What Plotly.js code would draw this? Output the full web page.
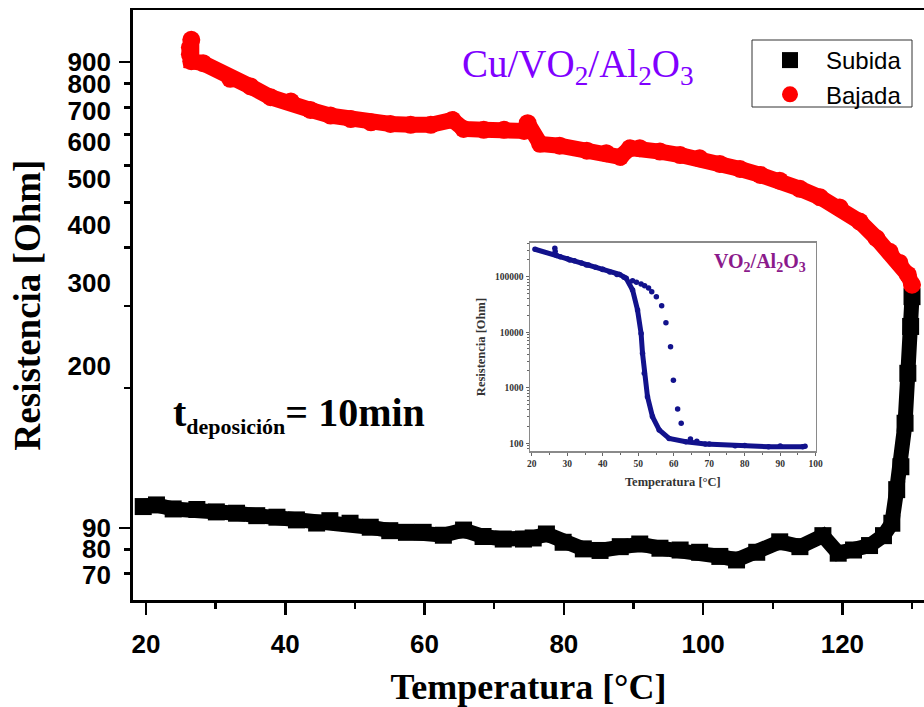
<!DOCTYPE html>
<html><head><meta charset="utf-8">
<script src="https://cdn.plot.ly/plotly-3.0.1.min.js"></script>
<style>html,body{margin:0;padding:0;background:#fff}#chart{width:924px;height:707px}</style>
</head><body><div id="chart"></div>
<script>
// ---- Main chart data (Cu/VO2/Al2O3) ----
var subidaT = [19.6, 21.5, 23.9, 27.3, 30.1, 33.0, 35.9, 38.8, 41.6, 44.5, 46.4, 49.3, 52.2, 55.0, 57.4, 59.8, 62.7, 65.6, 68.4, 71.3, 74.2, 75.6, 77.5, 79.9, 82.8, 85.2, 88.1, 90.9, 93.8, 96.7, 99.5, 102.4, 104.8, 107.7, 111.0, 113.9, 117.2, 119.4, 121.6, 123.9, 125.9, 127.1, 127.8, 128.4, 129.0, 129.4, 129.8, 130.0];
var subidaR = [111.3, 112.2, 110.0, 109.7, 108.4, 107.7, 106.4, 105.6, 104.2, 102.6, 103.8, 102.5, 100.5, 98.8, 98.0, 98.0, 96.6, 99.1, 96.0, 94.8, 94.8, 95.3, 97.2, 93.3, 90.3, 89.6, 91.3, 92.5, 90.6, 89.8, 88.8, 87.0, 85.5, 88.8, 93.5, 91.3, 96.4, 88.4, 89.8, 91.8, 96.4, 102.5, 121, 135.5, 168, 215, 271, 314];

var bajadaT = [26.5, 26.3, 26.3, 26.5, 28.2, 32.1, 35.0, 37.9, 40.8, 43.6, 46.5, 49.4, 52.3, 55.1, 58.0, 60.9, 64.0, 65.6, 68.5, 71.4, 74.3, 74.8, 76.6, 79.4, 83.3, 86.1, 88.1, 89.5, 90.9, 93.8, 96.7, 99.5, 102.4, 105.3, 108.2, 111.0, 113.9, 116.8, 119.6, 122.5, 124.9, 126.8, 128.2, 129.4, 130.0];
var bajadaR = [1117, 1075, 1040, 1005, 995, 921, 887, 841, 823, 790, 768, 755, 743, 737, 734, 734, 752, 719, 716, 716, 712, 740, 668, 662, 646, 638, 626, 654, 654, 643, 632, 622, 605, 590, 573, 557, 535, 513, 488, 455, 419, 392, 371, 350, 333];

// ---- Inset data (VO2/Al2O3) ----
var insetUpT = [20.9, 30.7, 35.4, 40.0, 44.7, 46.6, 48.4, 49.8, 50.8, 51.2, 51.7, 52.6, 54.0, 55.9, 58.7, 63.4, 68.9, 77.3, 86.7, 96.4];
var insetUpR = [312000, 200000, 162000, 136000, 110000, 93500, 57500, 25100, 9500, 4170, 1820, 689, 302, 173, 122, 106, 96.8, 90.2, 86.5, 86.5];
var insetDownT = [97.0, 90.0, 80.0, 70.0, 66.5, 64.7, 62.1, 61.1, 59.9, 59.1, 57.8, 56.6, 55.1, 53.8, 52.9, 51.8, 50.8, 49.5, 48.4, 46.0, 44.0, 42.0, 40.0, 38.0, 36.0, 34.0, 32.0, 30.0, 28.0, 27.0, 26.6, 26.5];
var insetDownR = [88, 89, 91, 97, 108, 119, 229, 413, 1360, 5480, 14800, 30000, 43600, 53700, 62500, 68800, 73800, 79300, 84700, 98000, 110000, 122000, 135000, 148000, 162000, 177000, 193000, 210000, 228000, 242000, 285000, 325000];

// ---- Tick labels ----
var xTickVals = [20, 40, 60, 80, 100, 120];
var xTickText = ['20', '40', '60', '80', '100', '120'];
var yMajorTicks = [100, 1000];
var yMinorTicks = [70, 80, 90, 200, 300, 400, 500, 600, 700, 800, 900];
var yLabelPos = [1000, 900, 786, 673, 562, 448, 336, 223, 100, 90.3, 79.4];
var yLabelText = ['900', '800', '700', '600', '500', '400', '300', '200', '90', '80', '70'];
var insetXTickVals = [20, 30, 40, 50, 60, 70, 80, 90, 100];
var insetYTickVals = [100, 1000, 10000, 100000];
var insetYTickText = ['100', '1000', '10000', '100000'];

var SERIF = 'Liberation Serif, Times New Roman, serif';
var SANS = 'Liberation Sans, Arial, sans-serif';
var NAVY = '#12128c';

var traces = [
  {x: subidaT, y: subidaR, mode: 'lines', line: {color: '#000', width: 15}, showlegend: false, hoverinfo: 'skip'},
  {x: bajadaT, y: bajadaR, mode: 'lines', line: {color: '#ff0000', width: 16}, showlegend: false, hoverinfo: 'skip'},
  {x: subidaT, y: subidaR, mode: 'markers', name: 'Subida', marker: {symbol: 'square', size: 17, color: '#000'}},
  {x: bajadaT, y: bajadaR, mode: 'markers', name: 'Bajada', marker: {symbol: 'circle', size: 18, color: '#ff0000'}},
  {x: [null], y: [null], xaxis: 'x', yaxis: 'y3', mode: 'markers', showlegend: false, hoverinfo: 'skip'},
  {x: insetUpT, y: insetUpR, xaxis: 'x2', yaxis: 'y2', mode: 'lines+markers', line: {color: NAVY, width: 5}, marker: {size: 5.5, color: NAVY}, showlegend: false},
  {x: insetDownT, y: insetDownR, xaxis: 'x2', yaxis: 'y2', mode: 'markers', marker: {size: 5.5, color: NAVY}, showlegend: false}
];

var layout = {
  width: 924, height: 707,
  margin: {l: 133, r: 0, t: 10, b: 107},
  paper_bgcolor: '#fff', plot_bgcolor: '#fff',
  showlegend: true,
  legend: {x: (754 - 133) / 791, y: (600 - 38) / 590, xanchor: 'left', yanchor: 'top', bgcolor: 'rgba(0,0,0,0)', borderwidth: 0,
           font: {family: SANS, size: 24, color: '#000'}, tracegroupgap: 0, itemwidth: 62},
  xaxis: {
    domain: [0, 1], range: [18.13, 131.72], tickmode: 'array', tickvals: xTickVals, ticktext: xTickText,
    ticks: 'outside', ticklen: 12, tickwidth: 2.5, tickcolor: '#000', ticklabelstandoff: 7,
    showline: true, linewidth: 2.5, linecolor: '#000', mirror: true, showgrid: false, zeroline: false,
    tickfont: {family: SANS, size: 26, color: '#000', weight: 'bold'},
    minor: {dtick: 10, tick0: 0, ticks: 'outside', ticklen: 6, tickwidth: 2.5, tickcolor: '#000', showgrid: false},
    title: {text: '<b>Temperatura [°C]</b>', font: {family: SERIF, size: 36, color: '#000'}, standoff: 27},
    anchor: 'y'
  },
  yaxis: {
    type: 'log', range: [1.846, 3.112], tickmode: 'array', tickvals: yMajorTicks, showticklabels: false,
    ticks: 'outside', ticklen: 11, tickwidth: 2.5, tickcolor: '#000',
    showline: true, linewidth: 3, linecolor: '#000', mirror: false, showgrid: false, zeroline: false,
    minor: {tickmode: 'array', tickvals: yMinorTicks, ticks: 'outside', ticklen: 6, tickwidth: 2.5, tickcolor: '#000', showgrid: false},
    title: {text: '<b>Resistencia [Ohm]</b>', font: {family: SERIF, size: 37, color: '#000'}, standoff: 68},
    anchor: 'x'
  },
  yaxis3: {
    type: 'log', overlaying: 'y', side: 'left', anchor: 'x', range: [1.846, 3.112],
    tickmode: 'array', tickvals: yLabelPos, ticktext: yLabelText, ticks: '', showline: false,
    showgrid: false, zeroline: false, ticklabelstandoff: 21,
    tickfont: {family: SANS, size: 26, color: '#000', weight: 'bold'}
  },
  xaxis2: {
    domain: [0.5019, 0.8631], anchor: 'y2', range: [19.5, 100], tickmode: 'array', tickvals: insetXTickVals,
    ticks: 'outside', ticklen: 3, tickwidth: 1, tickcolor: '#666',
    showline: true, linewidth: 1.5, linecolor: '#8a8a8a', mirror: true, showgrid: false, zeroline: false,
    tickfont: {family: SERIF, size: 9.5, color: '#333', weight: 'bold'},
    minor: {dtick: 5, ticks: 'outside', ticklen: 2, tickcolor: '#666', showgrid: false},
    title: {text: '<b>Temperatura [°C]</b>', font: {family: SERIF, size: 12.5, color: '#333'}, standoff: 9}
  },
  yaxis2: {
    domain: [0.2525, 0.6051], anchor: 'x2', type: 'log', range: [1.859, 5.607],
    tickmode: 'array', tickvals: insetYTickVals, ticktext: insetYTickText,
    ticks: 'outside', ticklen: 3, tickwidth: 1, tickcolor: '#666',
    showline: true, linewidth: 1.5, linecolor: '#8a8a8a', mirror: true, showgrid: false, zeroline: false,
    tickfont: {family: SERIF, size: 9.5, color: '#333', weight: 'bold'},
    minor: {dtick: 'D1', ticks: 'outside', ticklen: 2, tickcolor: '#666', showgrid: false},
    title: {text: '<b>Resistencia [Ohm]</b>', font: {family: SERIF, size: 12.5, color: '#333'}, standoff: 6}
  },
  shapes: [
    {type: 'rect', xref: 'paper', yref: 'paper', x0: (752 - 133) / 791, x1: (912 - 133) / 791,
     y0: (600 - 107) / 590, y1: (600 - 40) / 590, line: {color: '#333', width: 1}, fillcolor: 'rgba(0,0,0,0)'}
  ],
  annotations: [
    {text: 'Cu/VO<sub>2</sub>/Al<sub>2</sub>O<sub>3</sub>', xref: 'paper', yref: 'paper', x: 0.562, y: 0.905,
     xanchor: 'center', yanchor: 'middle', showarrow: false, font: {family: SERIF, size: 39, color: '#8000ff'}},
    {text: '<b>t<sub><span style="font-size:22px">deposición</span></sub>= 10min</b>', xref: 'paper', yref: 'paper', x: 0.21, y: 0.314,
     xanchor: 'center', yanchor: 'middle', showarrow: false, font: {family: SERIF, size: 40, color: '#000'}},
    {text: '<b>VO<sub>2</sub>/Al<sub>2</sub>O<sub>3</sub></b>', xref: 'paper', yref: 'paper', x: (760 - 133) / 791, y: (600 - 262) / 590,
     xanchor: 'center', yanchor: 'middle', showarrow: false, font: {family: SERIF, size: 20, color: '#8b1a8b'}}
  ]
};

Plotly.newPlot('chart', traces, layout, {displayModeBar: false, staticPlot: true});
</script></body></html>
